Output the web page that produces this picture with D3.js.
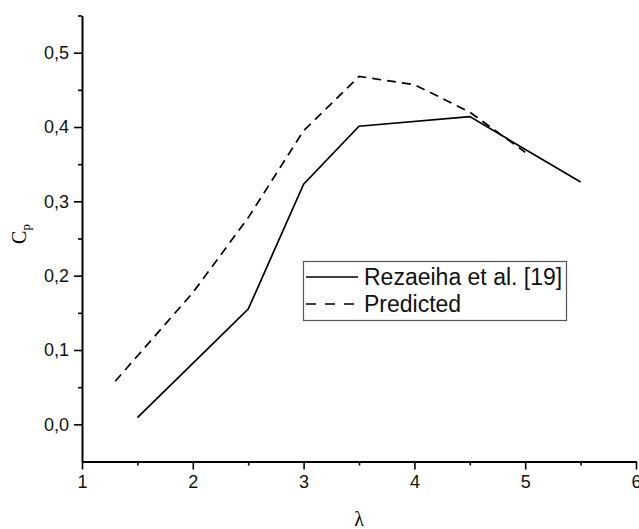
<!DOCTYPE html>
<html><head><meta charset="utf-8">
<script src="https://cdn.jsdelivr.net/npm/d3@7"></script>
<style>body{margin:0;background:#fff}svg{display:block}</style>
</head><body>
<svg id="c" width="639" height="529"></svg>
<script>
const refX = [1.5, 2.0, 2.5, 3.0, 3.5, 4.5, 5.5];
const refY = [0.009, 0.082, 0.155, 0.323, 0.401, 0.414, 0.326];
const predX = [1.3, 1.5, 2.0, 2.5, 3.0, 3.5, 4.0, 4.5, 5.0];
const predY = [0.058, 0.092, 0.177, 0.278, 0.395, 0.468, 0.457, 0.420, 0.366];
const xTicks = [1, 2, 3, 4, 5, 6];
const yTicks = [0.0, 0.1, 0.2, 0.3, 0.4, 0.5];
const xMinor = [1.5, 2.5, 3.5, 4.5, 5.5];
const yMinor = [0.05, 0.15, 0.25, 0.35, 0.45, 0.55];
const legendLabels = ["Rezaeiha et al. [19]", "Predicted"];

const svg = d3.select("#c");
const x = d3.scaleLinear().domain([1, 6]).range([82, 636]);
const y = d3.scaleLinear().domain([-0.05, 0.55]).range([461.5, 15.5]);
const fmt = d => d3.format(".1f")(d).replace(".", ",");

const font = "'Liberation Sans', Arial, sans-serif";

// X axis
const gx = svg.append("g").attr("transform", `translate(0,${y(-0.05)})`);
gx.call(d3.axisBottom(x).tickValues(xTicks).tickFormat(d3.format("d")).tickSize(8).tickSizeOuter(0).tickPadding(6));
gx.append("g").call(d3.axisBottom(x).tickValues(xMinor).tickFormat("").tickSize(4).tickSizeOuter(0)).select(".domain").remove();
// Y axis
const gy = svg.append("g").attr("transform", `translate(${x(1)},0)`);
gy.call(d3.axisLeft(y).tickValues(yTicks).tickFormat(fmt).tickSize(8).tickSizeOuter(0).tickPadding(5));
gy.append("g").call(d3.axisLeft(y).tickValues(yMinor).tickFormat("").tickSize(4).tickSizeOuter(0)).select(".domain").remove();

svg.selectAll(".domain").attr("stroke", "#000").attr("stroke-width", 2);
svg.selectAll(".tick line").attr("stroke", "#000").attr("stroke-width", 1.6);
svg.selectAll(".tick text").attr("font-family", font).attr("font-size", 18).attr("fill", "#111");

// Lines
const line = d3.line().x(d => x(d[0])).y(d => y(d[1]));
svg.append("path").datum(refX.map((v, i) => [v, refY[i]]))
  .attr("d", line).attr("fill", "none").attr("stroke", "#000").attr("stroke-width", 1.7);
svg.append("path").datum(predX.map((v, i) => [v, predY[i]]))
  .attr("d", line).attr("fill", "none").attr("stroke", "#000").attr("stroke-width", 1.7)
  .attr("stroke-dasharray", "9,6");

// Axis titles
svg.append("text").attr("x", (x(1) + x(6)) / 2).attr("y", 526).attr("text-anchor", "middle")
  .attr("font-family", "'Liberation Serif', 'Times New Roman', serif").attr("font-size", 20).text("λ");
const cp = svg.append("text").attr("transform", "translate(26,234) rotate(-90)").attr("text-anchor", "middle")
  .attr("font-family", "'Liberation Serif', 'Times New Roman', serif").attr("font-size", 20);
cp.append("tspan").text("C");
cp.append("tspan").attr("font-size", 13).attr("dy", 4).text("p");

// Legend
const lg = svg.append("g");
lg.append("rect").attr("x", 303.5).attr("y", 261.5).attr("width", 263).attr("height", 59)
  .attr("fill", "#fff").attr("stroke", "#555").attr("stroke-width", 1.2);
const rows = [277, 304];
legendLabels.forEach((lab, i) => {
  lg.append("line").attr("x1", 306).attr("x2", 358).attr("y1", rows[i]).attr("y2", rows[i])
    .attr("stroke", "#000").attr("stroke-width", 1.7).attr("stroke-dasharray", i === 1 ? "10,9" : null);
  lg.append("text").attr("x", 364).attr("y", rows[i]).attr("dy", "0.36em")
    .attr("font-family", font).attr("font-size", 23).attr("fill", "#111").text(lab);
});
</script>
</body></html>
